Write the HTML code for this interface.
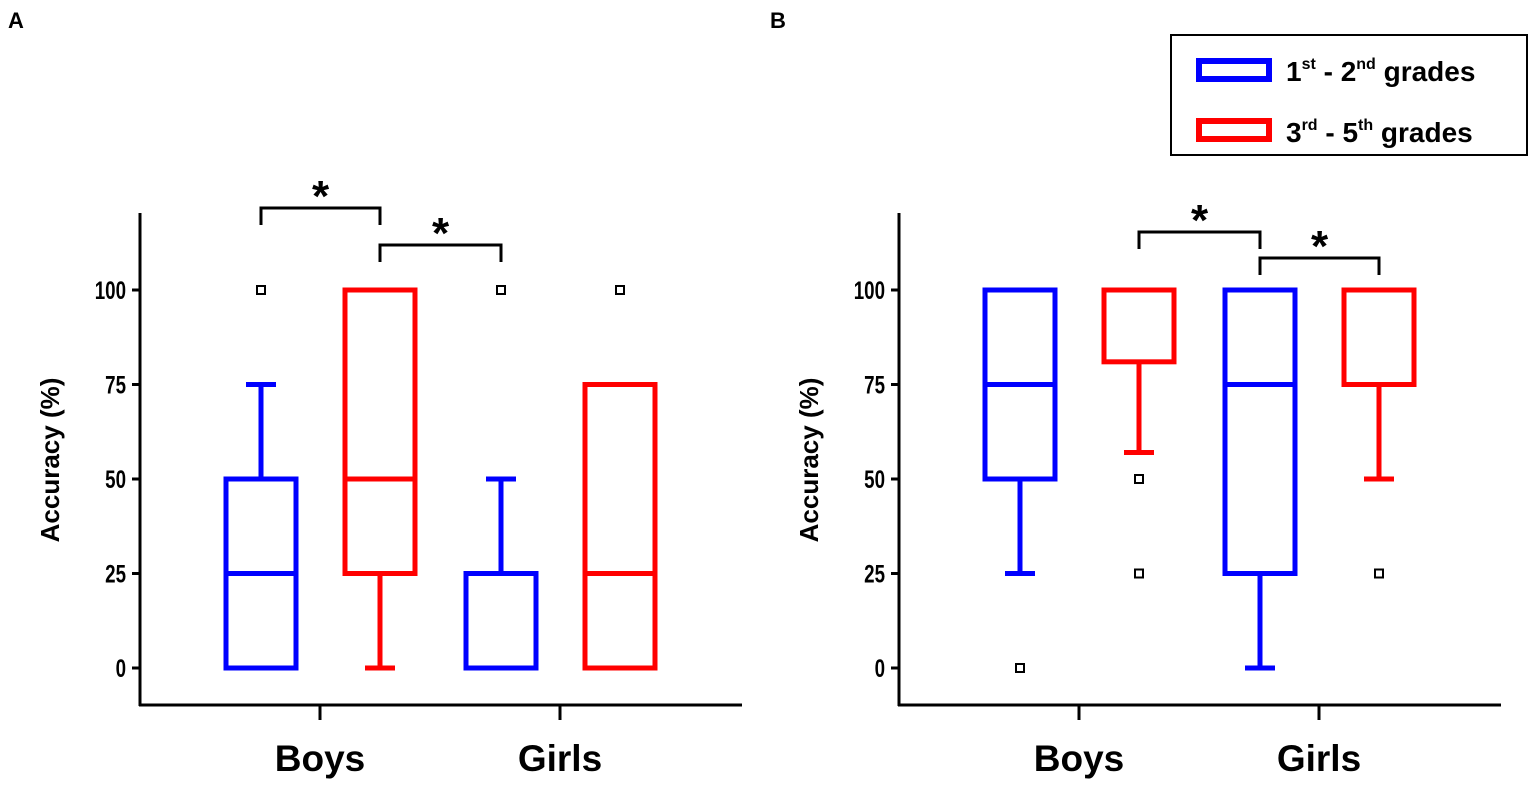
<!DOCTYPE html>
<html><head><meta charset="utf-8"><style>
body{margin:0;background:#fff;}
svg text{font-family:"Liberation Sans",Arial,sans-serif;font-weight:bold;}
</style></head><body>
<svg id="fig" width="1535" height="785" viewBox="0 0 1535 785">
<text x="8" y="28" font-size="22">A</text>
<text x="770" y="28" font-size="22">B</text>
<g>
<rect x="1171" y="35" width="356" height="120" fill="#fff" stroke="#000" stroke-width="2"/>
<rect x="1199" y="61" width="70" height="18" fill="#fff" stroke="#0000ff" stroke-width="6"/>
<text x="1286" y="81" font-size="28">1<tspan font-size="16" dy="-12">st</tspan><tspan dy="12"> - 2</tspan><tspan font-size="16" dy="-12">nd</tspan><tspan dy="12"> grades</tspan></text>
<rect x="1199" y="121" width="70" height="18" fill="#fff" stroke="#ff0000" stroke-width="6"/>
<text x="1286" y="142" font-size="28">3<tspan font-size="16" dy="-12">rd</tspan><tspan dy="12"> - 5</tspan><tspan font-size="16" dy="-12">th</tspan><tspan dy="12"> grades</tspan></text>
</g>
</svg>
<script>
const categories = ["Boys", "Girls"];
const yTicks = [0, 25, 50, 75, 100];
const panelALow = [0, 0, 0, 0];
const panelAQ1 = [0, 25, 0, 0];
const panelAMed = [25, 50, 0, 25];
const panelAQ3 = [50, 100, 25, 75];
const panelAHigh = [75, 100, 50, 75];
const panelAOutliers = [[100], [], [100], [100]];
const panelBLow = [25, 57, 0, 50];
const panelBQ1 = [50, 81, 25, 75];
const panelBMed = [75, 100, 75, 100];
const panelBQ3 = [100, 100, 100, 100];
const panelBHigh = [100, 100, 100, 100];
const panelBOutliers = [[0], [50, 25], [], [25]];
const panelASig = [[0, 1], [1, 2]];
const panelBSig = [[1, 2], [2, 3]];

const NS = "http://www.w3.org/2000/svg";
const svg = document.getElementById("fig");
function mk(tag, attrs, parent) {
  const e = document.createElementNS(NS, tag);
  for (const k in attrs) e.setAttribute(k, attrs[k]);
  parent.appendChild(e);
  return e;
}
const y = v => 668 - (v / 100) * 378;
const colors = ["#0000ff", "#ff0000", "#0000ff", "#ff0000"];

function drawPanel(id, ax, lo, q1, med, q3, hi, outs, sig, sigY) {
  const g = mk("g", {}, svg);
  
  
  const catX = i => ax + 180 + i * 240;
  const boxX = j => catX(Math.floor(j / 2)) + (j % 2 === 0 ? -59 : 60);
  const ya = mk("line", {x1: ax, y1: 213, x2: ax, y2: 706, stroke: "#000", "stroke-width": 3}, g);
  
  
  const xa = mk("line", {x1: ax - 1, y1: 705, x2: ax + 602, y2: 705, stroke: "#000", "stroke-width": 3}, g);
  
  
  yTicks.forEach(t => {
    const tk = mk("line", {x1: ax - 8, y1: y(t), x2: ax, y2: y(t), stroke: "#000", "stroke-width": 3}, g);
    
    
    const tl = mk("text", {x: ax - 14, y: y(t) + 9, "font-size": 25, "text-anchor": "end", transform: `translate(${ax - 14},0) scale(0.75,1) translate(${-(ax - 14)},0)`}, g);
    tl.textContent = t;
    
    
  });
  categories.forEach((c, i) => {
    const tk = mk("line", {x1: catX(i), y1: 705, x2: catX(i), y2: 720, stroke: "#000", "stroke-width": 3}, g);
    
    
    const tl = mk("text", {x: catX(i), y: 771, "font-size": 37, "text-anchor": "middle"}, g);
    tl.textContent = c;
    
    
  });
  const yt = mk("text", {x: 0, y: 0, "font-size": 26, "text-anchor": "middle", transform: `translate(${ax - 81},460) rotate(-90)`}, g);
  yt.textContent = "Accuracy (%)";
  
  
  for (let j = 0; j < 4; j++) {
    const cx = boxX(j), col = colors[j], hw = 35;
    const bg = mk("g", {stroke: col, "stroke-width": 5, fill: "none"}, g);
    
    
    if (hi[j] > q3[j]) {
      mk("line", {x1: cx, y1: y(q3[j]), x2: cx, y2: y(hi[j])}, bg);
      mk("line", {x1: cx - 15, y1: y(hi[j]), x2: cx + 15, y2: y(hi[j])}, bg);
    }
    if (lo[j] < q1[j]) {
      mk("line", {x1: cx, y1: y(q1[j]), x2: cx, y2: y(lo[j])}, bg);
      mk("line", {x1: cx - 15, y1: y(lo[j]), x2: cx + 15, y2: y(lo[j])}, bg);
    }
    mk("rect", {x: cx - hw, y: y(q3[j]), width: 2 * hw, height: Math.max(0, y(q1[j]) - y(q3[j]))}, bg);
    mk("line", {x1: cx - hw, y1: y(med[j]), x2: cx + hw, y2: y(med[j])}, bg);
    outs[j].forEach(o => {
      const r = mk("rect", {x: cx - 4, y: y(o) - 4, width: 8, height: 8, stroke: "#000", "stroke-width": 2, fill: "#fff"}, g);
      
      
    });
  }
  sig.forEach((s, k) => {
    const x1 = boxX(s[0]), x2 = boxX(s[1]), by = sigY[k];
    const p = mk("path", {d: `M${x1},${by + 17} V${by} H${x2} V${by + 17}`, stroke: "#000", "stroke-width": 3, fill: "none"}, g);
    
    
    const st = mk("text", {x: (x1 + x2) / 2, y: by + 3, "font-size": 44, "text-anchor": "middle"}, g);
    st.textContent = "*";
    
    
  });
}
drawPanel("a", 140, panelALow, panelAQ1, panelAMed, panelAQ3, panelAHigh, panelAOutliers, panelASig, [208, 245]);
drawPanel("b", 899, panelBLow, panelBQ1, panelBMed, panelBQ3, panelBHigh, panelBOutliers, panelBSig, [232, 258]);
</script>
</body></html>
